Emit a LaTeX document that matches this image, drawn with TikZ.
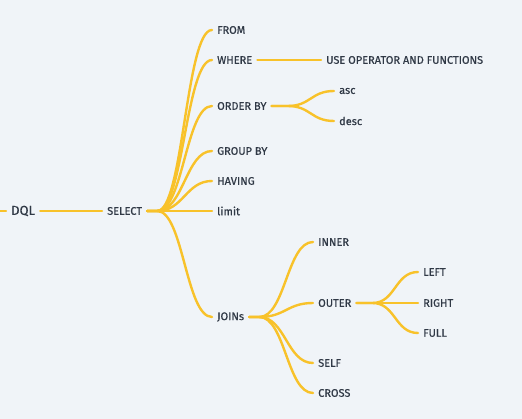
\documentclass[tikz,border=0pt]{standalone}
\usepackage{fontspec}
\setmainfont{Fira Sans}
\newfontfamily\topicfont{Fira Sans}[FakeBold=0.6]
\usepackage{tikz}
\usetikzlibrary{positioning}
\definecolor{branchyellow}{RGB}{248, 194, 42}
\definecolor{labelgray}{RGB}{48, 57, 70}
\definecolor{canvasblue}{RGB}{240, 244, 248}

\begin{document}
\begin{tikzpicture}[x=1pt, y=-1pt,
    topic/.style={anchor=west, inner xsep=5pt, inner ysep=2pt, text=labelgray, font=\topicfont\fontsize{11}{13}\selectfont},
    link/.style={draw=branchyellow, line width=2.4pt, line cap=round}
]
\fill[canvasblue] (0,0) rectangle (522,419);
\useasboundingbox (0,0) rectangle (522,419);

\coordinate (edge) at (0,211);
\node[topic, font=\topicfont\fontsize{13}{15}\selectfont] (dql) at (6,211) {DQL};
\node[topic] (select) at (102,211) {SELECT};

\node[topic] (from) at (212,30) {FROM};
\node[topic] (where) at (212,60) {WHERE};
\node[topic] (orderby) at (212,106) {ORDER BY};
\node[topic] (groupby) at (212,151) {GROUP BY};
\node[topic] (having) at (212,181) {HAVING};
\node[topic] (limit) at (212,211) {limit};
\node[topic] (joins) at (212,317) {JOINs};

\node[topic] (useop) at (321,60) {USE OPERATOR AND FUNCTIONS};
\node[topic] (asc) at (334,91) {asc};
\node[topic] (desc) at (334,121) {desc};

\node[topic] (inner) at (313,242) {INNER};
\node[topic] (outer) at (313,303) {OUTER};
\node[topic] (self) at (313,363) {SELF};
\node[topic] (cross) at (313,393) {CROSS};

\node[topic] (left) at (418,272) {LEFT};
\node[topic] (right) at (418,303) {RIGHT};
\node[topic] (full) at (418,333) {FULL};

% root
\draw[link] (edge) -- (dql.west);
\draw[link] (dql.east) -- (select.west);

% select branches
\draw[link] (select.east) -- ++(10,0) .. controls +(26,0) and +(-26,0) .. (from.west);
\draw[link] (select.east) -- ++(10,0) .. controls +(26,0) and +(-26,0) .. (where.west);
\draw[link] (select.east) -- ++(10,0) .. controls +(26,0) and +(-26,0) .. (orderby.west);
\draw[link] (select.east) -- ++(10,0) .. controls +(26,0) and +(-26,0) .. (groupby.west);
\draw[link] (select.east) -- ++(10,0) .. controls +(26,0) and +(-26,0) .. (having.west);
\draw[link] (select.east) -- (limit.west);
\draw[link] (select.east) -- ++(10,0) .. controls +(26,0) and +(-26,0) .. (joins.west);

\draw[link] (where.east) -- (useop.west);
\draw[link] (orderby.east) -- ++(16,0) .. controls +(23,0) and +(-23,0) .. (asc.west);
\draw[link] (orderby.east) -- ++(16,0) .. controls +(23,0) and +(-23,0) .. (desc.west);

% joins
\draw[link] (joins.east) -- ++(10,0) .. controls +(26,0) and +(-26,0) .. (inner.west);
\draw[link] (joins.east) -- ++(10,0) .. controls +(26,0) and +(-26,0) .. (outer.west);
\draw[link] (joins.east) -- ++(10,0) .. controls +(26,0) and +(-26,0) .. (self.west);
\draw[link] (joins.east) -- ++(10,0) .. controls +(26,0) and +(-26,0) .. (cross.west);

\draw[link] (outer.east) -- ++(16,0) .. controls +(23,0) and +(-23,0) .. (left.west);
\draw[link] (outer.east) -- (right.west);
\draw[link] (outer.east) -- ++(16,0) .. controls +(23,0) and +(-23,0) .. (full.west);
\end{tikzpicture}
\end{document}
